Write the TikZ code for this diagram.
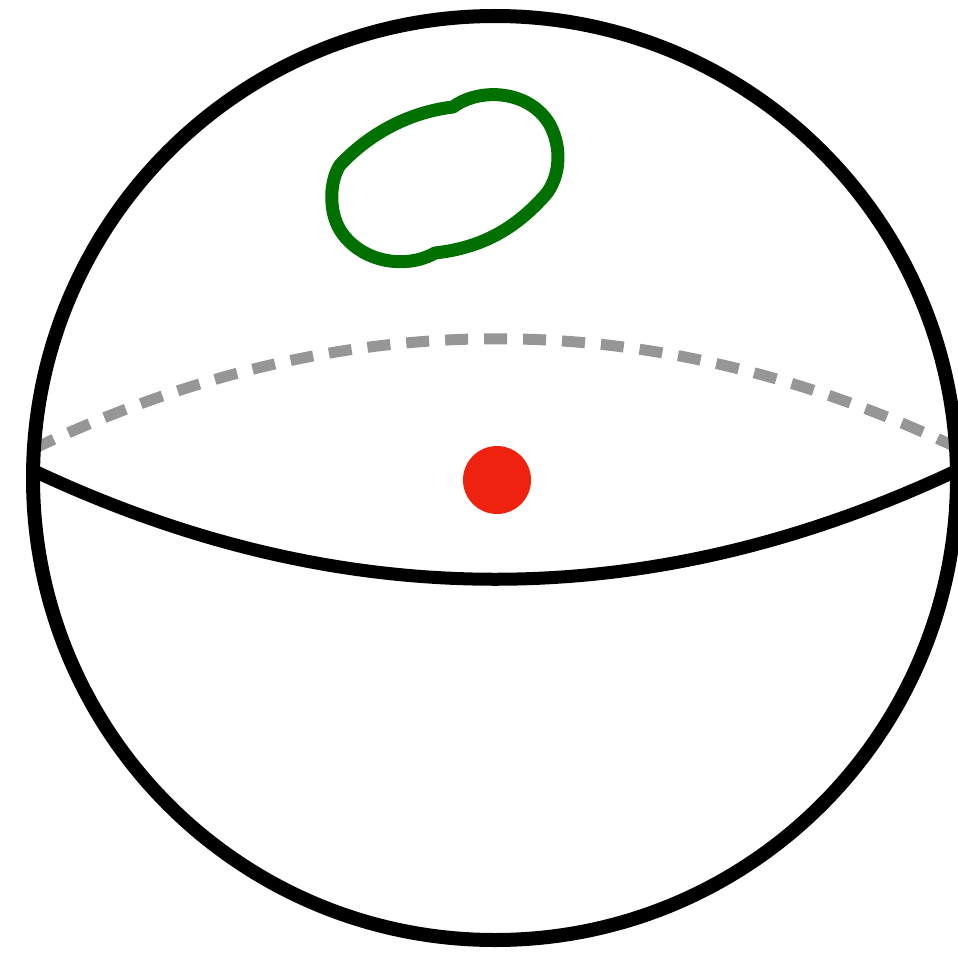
\documentclass[tikz,border=0pt]{standalone}
\usepackage{xcolor}
\usepackage{tikz}
\definecolor{loopgreen}{RGB}{0, 112, 0}
\definecolor{pointred}{RGB}{238, 34, 14}
\definecolor{backgray}{RGB}{150, 150, 150}
\begin{document}
\begin{tikzpicture}[
    x=1pt, y=-1pt,
    sphere/.style={draw=black, line width=14pt},
    front/.style={draw=black, line width=13pt},
    back/.style={draw=backgray, line width=11pt, dash pattern=on 23pt off 16pt},
    curve/.style={draw=loopgreen, line width=13pt, line join=round}
]
\useasboundingbox (0,0) rectangle (958,955);
\coordinate (centre) at (495,478);
% equator: hidden half, then visible half
\coordinate (backL) at (33,449);
\coordinate (backR) at (960,449);
\coordinate (frontL) at (30,469);
\coordinate (frontR) at (960,469);
\draw[back] (backL) .. controls (342,302) and (651,302) .. (backR);
\draw[front] (frontL) .. controls (340,616) and (650,616) .. (frontR);
\draw[sphere] (centre) circle[radius=462];
\fill[pointred] (497,480) circle[radius=34];
% closed loop on the surface
\draw[curve] (453,107) .. controls (480,87) and (530,90) .. (550,125)
    .. controls (562,148) and (560,175) .. (547,193)
    .. controls (515,230) and (480,248) .. (435,253)
    .. controls (405,270) and (360,262) .. (340,230)
    .. controls (328,210) and (330,180) .. (340,165)
    .. controls (370,133) and (410,112) .. cycle;
\end{tikzpicture}
\end{document}
